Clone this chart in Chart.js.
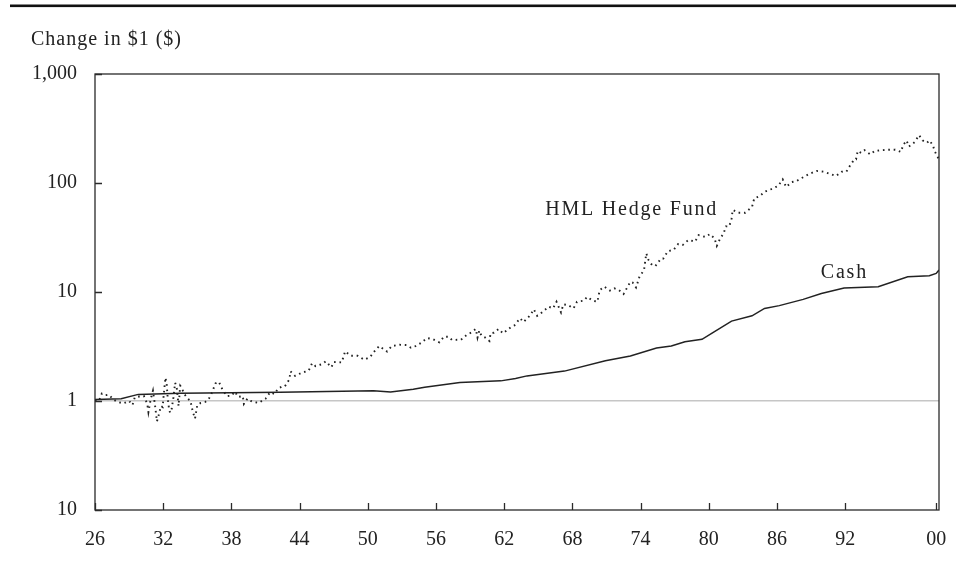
<!DOCTYPE html>
<html>
<head>
<meta charset="utf-8">
<script src="https://cdn.jsdelivr.net/npm/chart.js@4.4.1/dist/chart.umd.min.js"></script>
<style>
  html, body { margin: 0; padding: 0; background: #fff; }
  #wrap { width: 956px; height: 563px; position: relative; }
</style>
</head>
<body>
<div id="wrap"><canvas id="chart"></canvas></div>
<script>
// axis ticks
const xTicks = [1926, 1932, 1938, 1944, 1950, 1956, 1962, 1968, 1974, 1980, 1986, 1992, 2000];
const xTickLabels = ["26", "32", "38", "44", "50", "56", "62", "68", "74", "80", "86", "92", "00"];
const yTicks = [0.1, 1, 10, 100, 1000];
const yTickLabels = ["10", "1", "10", "100", "1,000"];

const titleText = "Change in $1 ($)";
const fundLabel = "HML Hedge Fund";
const cashLabel = "Cash";

// HML hedge fund, growth of $1
const fundYears = [
  1926.0, 1926.35, 1926.6, 1926.9, 1927.2, 1927.7, 1928.0, 1928.5, 1929.0, 1929.3,
  1929.5, 1929.9, 1930.3, 1930.6, 1930.7, 1930.9, 1931.1, 1931.3, 1931.45, 1931.6,
  1931.8, 1931.95, 1932.1, 1932.2, 1932.3, 1932.4, 1932.5, 1932.6, 1932.75, 1932.9,
  1933.05, 1933.2, 1933.35, 1933.5, 1933.65, 1933.8, 1934.1, 1934.4, 1934.6, 1934.8,
  1935.0, 1935.3, 1935.7, 1936.0, 1936.3, 1936.6, 1936.9, 1937.2, 1937.6, 1938.0,
  1938.3, 1938.6, 1939.0, 1939.1, 1939.4, 1939.8, 1940.4, 1941.0, 1941.4, 1941.8,
  1942.1, 1942.4, 1942.7, 1943.1, 1943.2, 1943.6, 1944.2, 1944.8, 1945.1, 1945.4,
  1945.8, 1946.0, 1946.3, 1946.8, 1947.0, 1947.7, 1947.9, 1948.0, 1948.5, 1949.1,
  1949.7, 1950.2, 1950.6, 1951.0, 1951.7, 1952.1, 1952.8, 1953.4, 1953.8, 1954.2,
  1954.7, 1955.2, 1955.7, 1956.3, 1956.7, 1957.1, 1957.4, 1958.2, 1958.5, 1958.8,
  1959.1, 1959.5, 1959.65, 1959.8, 1960.0, 1960.3, 1960.7, 1960.8, 1961.1, 1961.5,
  1961.9, 1962.2, 1962.6, 1962.9, 1963.4, 1963.7, 1964.3, 1964.6, 1964.9, 1965.4,
  1965.9, 1966.3, 1966.6, 1967.0, 1967.2, 1967.6, 1968.1, 1968.4, 1969.0, 1969.3,
  1969.8, 1970.2, 1970.4, 1970.8, 1971.3, 1971.7, 1972.1, 1972.5, 1973.1, 1973.3,
  1973.6, 1973.9, 1974.3, 1974.5, 1974.7, 1975.0, 1975.3, 1975.8, 1976.0, 1976.4,
  1976.9, 1977.3, 1977.7, 1978.2, 1978.8, 1979.1, 1979.7, 1980.1, 1980.5, 1980.7,
  1981.0, 1981.3, 1981.5, 1981.8, 1982.0, 1982.1, 1982.6, 1983.2, 1983.8, 1984.0,
  1984.5, 1984.9, 1985.5, 1986.1, 1986.5, 1986.8, 1987.3, 1987.7, 1988.1, 1988.5,
  1988.9, 1989.5, 1990.1, 1990.6, 1991.2, 1991.7, 1992.1, 1992.4, 1992.8, 1992.95,
  1993.1, 1993.4, 1993.7, 1994.2, 1994.6, 1995.2, 1995.8, 1996.4, 1996.9, 1997.1,
  1997.4, 1997.6, 1998.1, 1998.5, 1998.8, 1999.2, 1999.4, 1999.7, 1999.9, 2000.2
];
const fundValues = [
  1.00, 1.00, 1.17, 1.13, 1.14, 1.02, 0.98, 0.95, 1.00, 0.92,
  1.08, 1.10, 1.11, 0.94, 0.79, 1.04, 1.24, 0.88, 0.65, 0.74,
  0.90, 0.88, 1.30, 1.64, 1.45, 1.05, 0.87, 0.78, 0.85, 1.08,
  1.47, 1.30, 0.90, 1.38, 1.32, 1.18, 1.07, 1.00, 0.80, 0.69,
  0.92, 0.96, 0.98, 1.04, 1.20, 1.45, 1.50, 1.28, 1.11, 1.12,
  1.22, 1.09, 1.11, 0.94, 1.05, 0.99, 0.96, 1.05, 1.20, 1.16,
  1.30, 1.35, 1.36, 1.58, 1.87, 1.70, 1.82, 1.90, 2.22, 2.09,
  2.15, 2.18, 2.31, 2.04, 2.28, 2.26, 2.62, 2.86, 2.60, 2.60,
  2.39, 2.53, 2.87, 3.19, 2.84, 3.19, 3.28, 3.26, 3.08, 3.19,
  3.42, 3.78, 3.70, 3.45, 3.89, 3.89, 3.63, 3.65, 3.89, 4.12,
  4.24, 4.58, 3.81, 4.42, 3.97, 3.84, 3.55, 4.17, 4.24, 4.58,
  4.17, 4.42, 4.77, 4.94, 5.74, 5.30, 6.14, 6.94, 6.05, 6.59,
  7.33, 7.08, 8.14, 6.50, 7.70, 7.60, 7.08, 8.14, 8.32, 9.00,
  8.32, 8.14, 10.4, 11.2, 10.3, 10.8, 10.4, 9.6, 12.4, 12.2,
  11.0, 13.8, 15.9, 22.6, 19.6, 17.7, 17.3, 20.3, 20.3, 23.7,
  24.3, 27.5, 27.0, 30.0, 29.0, 33.3, 32.0, 34.0, 31.0, 26.5,
  31.0, 34.4, 40.0, 40.0, 47.0, 56.6, 53.3, 53.3, 60.3, 72.3,
  76, 83, 88, 94, 108, 92, 102, 104, 110, 116,
  122, 129, 127, 122, 116, 127, 127, 143, 165, 165,
  197, 189, 200, 183, 197, 200, 202, 202, 193, 223,
  245, 216, 237, 275, 246, 234, 246, 223, 193, 168
];

// Cash (T-bills), growth of $1
const cashYears = [
  1926.0, 1928.3, 1929.8, 1933.5, 1942.3, 1950.5, 1952.0, 1954.0, 1955.0, 1958.1,
  1961.7, 1963.0, 1964.0, 1967.3, 1970.9, 1973.1, 1975.4, 1976.7, 1977.9, 1979.4,
  1980.5, 1982.0, 1983.8, 1984.9, 1986.2, 1988.3, 1989.9, 1991.9, 1994.9, 1997.5,
  1999.4, 2000.0, 2000.25
];
const cashValues = [
  1.03, 1.05, 1.15, 1.18, 1.20, 1.24, 1.21, 1.28, 1.34, 1.48,
  1.53, 1.61, 1.70, 1.88, 2.34, 2.59, 3.06, 3.19, 3.50, 3.68,
  4.32, 5.41, 6.05, 7.07, 7.50, 8.56, 9.70, 10.9, 11.2, 13.8,
  14.1, 14.8, 15.9
];

const SERIF = '"Liberation Serif", "Times New Roman", serif';
const INK = "#222";

function toPoints(xs, ys) {
  return xs.map((x, i) => ({ x: x, y: ys[i] }));
}

// frame, inner tick marks, top rule, title and line labels
const overlay = {
  id: "overlay",
  afterDraw(chart) {
    const { ctx, chartArea: a, scales } = chart;
    const x = scales.x, y = scales.y;
    ctx.save();
    ctx.strokeStyle = "#2a2a2a";
    ctx.lineWidth = 1.3;
    ctx.strokeRect(a.left, a.top, a.right - a.left, a.bottom - a.top);

    ctx.beginPath();
    xTicks.forEach(v => {
      const px = Math.round(x.getPixelForValue(v)) + 0.5;
      ctx.moveTo(px, a.bottom);
      ctx.lineTo(px, a.bottom - 7);
    });
    yTicks.forEach(v => {
      const py = Math.round(y.getPixelForValue(v)) + 0.5;
      ctx.moveTo(a.left, py);
      ctx.lineTo(a.left + 7, py);
    });
    ctx.stroke();

    ctx.fillStyle = "#111";
    ctx.fillRect(10, 4.5, 946, 2.6);

    ctx.fillStyle = INK;
    ctx.font = "20px " + SERIF;
    ctx.textAlign = "left";
    ctx.textBaseline = "alphabetic";
    ctx.letterSpacing = "1px";
    ctx.fillText(titleText, 31, 45);

    ctx.letterSpacing = "1.8px";
    ctx.fillText(fundLabel, x.getPixelForValue(1965.6), y.getPixelForValue(50.9));
    ctx.fillText(cashLabel, x.getPixelForValue(1989.85), y.getPixelForValue(13.4));
    ctx.restore();
  }
};

new Chart(document.getElementById("chart"), {
  type: "line",
  data: {
    datasets: [
      {
        label: fundLabel,
        data: toPoints(fundYears, fundValues),
        borderColor: INK,
        borderWidth: 1.9,
        borderDash: [1.6, 3.8],
        pointRadius: 0,
        tension: 0,
        fill: false
      },
      {
        label: cashLabel,
        data: toPoints(cashYears, cashValues),
        borderColor: INK,
        borderWidth: 1.5,
        pointRadius: 0,
        tension: 0,
        fill: false
      }
    ]
  },
  options: {
    responsive: true,
    maintainAspectRatio: false,
    animation: false,
    layout: { padding: { top: 74, right: 17, left: 0, bottom: 0 } },
    plugins: {
      legend: { display: false },
      tooltip: { enabled: false }
    },
    scales: {
      x: {
        type: "linear",
        min: 1926,
        max: 2000.25,
        afterBuildTicks: scale => { scale.ticks = xTicks.map(v => ({ value: v })); },
        afterFit: scale => {
          scale.height = 53;
          scale.paddingLeft = 0;
          scale.paddingRight = 0;
        },
        grid: { display: false, drawTicks: false },
        border: { display: false },
        ticks: {
          autoSkip: false,
          maxRotation: 0,
          padding: 18,
          color: INK,
          font: { family: SERIF, size: 20 },
          callback: v => xTickLabels[xTicks.indexOf(v)]
        }
      },
      y: {
        type: "logarithmic",
        min: 0.1,
        max: 1000,
        afterBuildTicks: scale => { scale.ticks = yTicks.map(v => ({ value: v })); },
        afterFit: scale => { scale.width = 95; },
        grid: {
          drawTicks: false,
          lineWidth: 1.5,
          color: c => (c.tick && c.tick.value === 1 ? "#c6c6c6" : "rgba(0,0,0,0)")
        },
        border: { display: false },
        ticks: {
          padding: 18,
          color: INK,
          font: { family: SERIF, size: 20 },
          callback: v => yTickLabels[yTicks.indexOf(v)]
        }
      }
    }
  },
  plugins: [overlay]
});
</script>
</body>
</html>
